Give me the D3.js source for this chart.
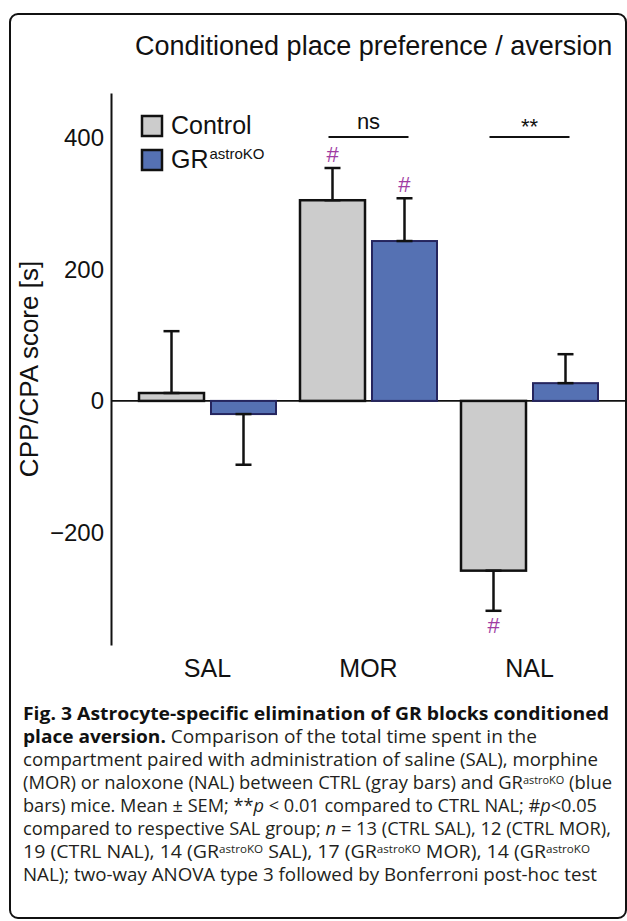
<!DOCTYPE html>
<html><head><meta charset="utf-8">
<script src="https://cdn.jsdelivr.net/npm/d3@7"></script>
<style>body{margin:0;background:#fff}svg{display:block}</style>
</head><body><script>
// ---- data ----
const categories = ["SAL", "MOR", "NAL"];
const series = ["Control", "GR"];
const controlMeans = [12, 305, -258];
const controlSEM = [94, 49, 61];
const koMeans = [-20, 243, 27];
const koSEM = [77, 65, 44];
const yTicks = [400, 200, 0, -200];
const yDomain = [-371, 468];
const hashMarks = [["MOR", "Control"], ["MOR", "GR"], ["NAL", "Control"]];
const brackets = [["MOR", "ns"], ["NAL", "**"]];
const legendItems = [["Control", ""], ["GR", "astroKO"]];
const titleText = "Conditioned place preference / aversion";
const yLabel = "CPP/CPA score [s]";
const captionLines = [
  [["Fig. 3 Astrocyte-specific elimination of GR blocks conditioned", "b"]],
  [["place aversion.", "b"], [" Comparison of the total time spent in the", ""]],
  [["compartment paired with administration of saline (SAL), morphine", ""]],
  [["(MOR) or naloxone (NAL) between CTRL (gray bars) and GR", ""], ["astroKO", "s"], [" (blue", ""]],
  [["bars) mice. Mean \u00b1 SEM; **", ""], ["p", "i"], [" < 0.01 compared to CTRL NAL; #", ""], ["p", "i"], ["<0.05", ""]],
  [["compared to respective SAL group; ", ""], ["n", "i"], [" = 13 (CTRL SAL), 12 (CTRL MOR),", ""]],
  [["19 (CTRL NAL), 14 (GR", ""], ["astroKO", "s"], [" SAL), 17 (GR", ""], ["astroKO", "s"], [" MOR), 14 (GR", ""], ["astroKO", "s"]],
  [["NAL); two-way ANOVA type 3 followed by Bonferroni post-hoc test", ""]]
];

// ---- layout ----
const W = 627, H = 921;
const FONT = "'Liberation Sans', Arial, Helvetica, sans-serif";
const CAPFONT = "'Open Sans', 'Noto Sans', sans-serif";
const captionWidths = [586, 514, 575, 589, 574, 588, 567, 574];
const svg = d3.select("body").append("svg").attr("width", W).attr("height", H);

svg.append("rect").attr("x", 10).attr("y", 14).attr("width", 616).attr("height", 904)
  .attr("rx", 8).attr("fill", "none").attr("stroke", "#111").attr("stroke-width", 2);

svg.append("text").attr("x", 135).attr("y", 55).attr("font-family", FONT)
  .attr("font-size", 27).attr("fill", "#111").text(titleText);

const y = d3.scaleLinear().domain(yDomain).range([645, 93]);
const x = d3.scaleBand().domain(categories).range([127, 610]).padding(0);
const xs = d3.scaleBand().domain(series).range([12, 149]).paddingInner(0.0972).paddingOuter(0);

const data = [];
categories.forEach((c, i) => {
  data.push({cat: c, ser: "Control", mean: controlMeans[i], sem: controlSEM[i]});
  data.push({cat: c, ser: "GR", mean: koMeans[i], sem: koSEM[i]});
});
const fill = {Control: "#cccccc", GR: "#5571b3"};
const stroke = {Control: "#111", GR: "#25255e"};

const axisX = 111;
const yAxis = d3.axisLeft(y).tickValues(yTicks).tickSize(0).tickPadding(7)
  .tickFormat(d => d < 0 ? "\u2212" + Math.abs(d) : d);
const gy = svg.append("g").attr("transform", `translate(${axisX},0)`).call(yAxis);
gy.select(".domain").attr("stroke", "#111").attr("stroke-width", 2);
gy.selectAll("text").attr("font-family", FONT).attr("font-size", 24).attr("fill", "#111");

svg.append("line").attr("x1", axisX).attr("x2", 625).attr("y1", y(0)).attr("y2", y(0))
  .attr("stroke", "#111").attr("stroke-width", 1.6);

const cx = d => x(d.cat) + xs(d.ser) + xs.bandwidth() / 2;
svg.append("g").selectAll("rect").data(data).join("rect")
  .attr("x", d => x(d.cat) + xs(d.ser))
  .attr("width", xs.bandwidth())
  .attr("y", d => y(Math.max(0, d.mean)))
  .attr("height", d => Math.abs(y(d.mean) - y(0)))
  .attr("fill", d => fill[d.ser]).attr("stroke", d => stroke[d.ser])
  .attr("stroke-width", d => d.ser === "Control" ? 2.5 : 2);

const tip = d => d.mean >= 0 ? d.mean + d.sem : d.mean - d.sem;
const eg = svg.append("g").attr("stroke", "#111").attr("stroke-width", 2.5);
eg.selectAll("line.v").data(data).join("line").attr("class", "v")
  .attr("x1", cx).attr("x2", cx).attr("y1", d => y(d.mean)).attr("y2", d => y(tip(d)));
eg.selectAll("line.c").data(data).join("line").attr("class", "c")
  .attr("x1", d => cx(d) - 8).attr("x2", d => cx(d) + 8)
  .attr("y1", d => y(tip(d))).attr("y2", d => y(tip(d)));
eg.selectAll("line.b").data(data).join("line").attr("class", "b")
  .attr("x1", d => cx(d) - 8).attr("x2", d => cx(d) + 8)
  .attr("y1", d => y(d.mean)).attr("y2", d => y(d.mean));

const hd = hashMarks.map(([c, s]) => data.find(d => d.cat === c && d.ser === s));
svg.append("g").selectAll("text").data(hd).join("text")
  .attr("x", cx)
  .attr("y", d => d.mean >= 0 ? y(tip(d)) - 6 : y(tip(d)) + 22)
  .attr("text-anchor", "middle").attr("font-family", FONT).attr("font-size", 22)
  .attr("fill", "#a03ca3").text("#");

brackets.forEach(([c, lab]) => {
  const mid = x(c) + x.bandwidth() / 2;
  svg.append("line").attr("x1", mid - 40).attr("x2", mid + 40).attr("y1", 137).attr("y2", 137)
    .attr("stroke", "#111").attr("stroke-width", 2);
  svg.append("text").attr("x", mid).attr("y", lab === "ns" ? 129 : 134).attr("text-anchor", "middle")
    .attr("font-family", FONT).attr("font-size", 22).attr("fill", "#111").text(lab);
});

svg.append("g").selectAll("text").data(categories).join("text")
  .attr("x", d => x(d) + x.bandwidth() / 2).attr("y", 677)
  .attr("text-anchor", "middle").attr("font-family", FONT).attr("font-size", 25)
  .attr("fill", "#111").text(d => d);

svg.append("text").attr("transform", `translate(38,${(y.range()[0] + y.range()[1]) / 2}) rotate(-90)`)
  .attr("text-anchor", "middle").attr("font-family", FONT).attr("font-size", 26)
  .attr("fill", "#111").text(yLabel);

legendItems.forEach(([lab, sup], i) => {
  const ly = 116 + i * 34;
  svg.append("rect").attr("x", 142).attr("y", ly).attr("width", 20).attr("height", 20)
    .attr("fill", fill[series[i]]).attr("stroke", "#111").attr("stroke-width", 2.5);
  const t = svg.append("text").attr("x", 171).attr("y", ly + 18).attr("font-family", FONT)
    .attr("font-size", 25).attr("fill", "#111");
  t.append("tspan").text(lab);
  if (sup) t.append("tspan").attr("dx", 1).attr("dy", -9).attr("font-size", 15).text(sup);
});

captionLines.forEach((segs, li) => {
  const t = svg.append("text").attr("x", 23).attr("y", 720 + li * 23)
    .attr("font-family", CAPFONT).attr("font-size", 18.5).attr("fill", "#231f20")
    .attr("textLength", captionWidths[li]).attr("lengthAdjust", "spacingAndGlyphs");
  let shift = 0;
  segs.forEach(([s, st]) => {
    const sp = t.append("tspan").text(s);
    if (st === "b") sp.attr("font-weight", "bold").attr("fill", "#111");
    if (st === "i") sp.attr("font-style", "italic");
    if (st === "s") { sp.attr("font-size", 11).attr("dy", -5 - shift); shift = -5; }
    else if (shift !== 0) { sp.attr("dy", -shift); shift = 0; }
  });
});
</script></body></html>
